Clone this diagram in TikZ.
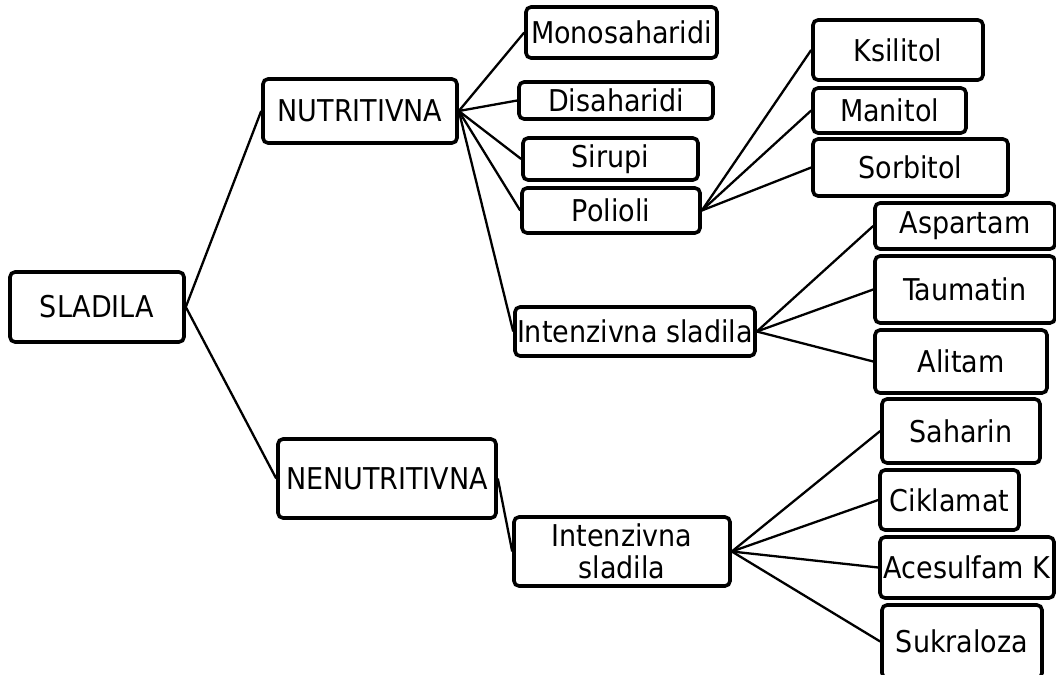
\documentclass[tikz,border=0pt]{standalone}
\usepackage{fontspec}
\setmainfont{DejaVu Sans Condensed}
\begin{document}
\begin{tikzpicture}[x = 1pt, y = -1pt, okvir/.style = {draw, line width = 3.6pt, rounded corners = 5pt, inner sep = 0pt, font = \fontsize{30}{32}\selectfont, align = center}, veza/.style = {line width = 2.3pt}]
				\useasboundingbox (0, 0) rectangle (1056, 674);
				\node[okvir, minimum width = 174, minimum height = 70] (sladila) at (97, 307) {SLADILA};
				\node[okvir, minimum width = 194, minimum height = 64] (nutri) at (360, 111) {NUTRITIVNA};
				\node[okvir, minimum width = 218, minimum height = 79] (nenutri) at (387, 478.5) {NENUTRITIVNA};
				\node[okvir, minimum width = 191, minimum height = 51] (mono) at (621.5, 32.5) {Monosaharidi};
				\node[okvir, minimum width = 194, minimum height = 37] (disa) at (616, 100.5) {Disaharidi};
				\node[okvir, minimum width = 175, minimum height = 42] (sirupi) at (610.5, 159) {Sirupi};
				\node[okvir, minimum width = 178, minimum height = 45] (polioli) at (611, 210.5) {Polioli};
				\node[okvir, minimum width = 240, minimum height = 49] (intnut) at (635, 331.5) {Intenzivna sladila};
				\node[okvir, minimum width = 170, minimum height = 60] (ksilitol) at (898, 50) {Ksilitol};
				\node[okvir, minimum width = 153, minimum height = 45] (manitol) at (889.5, 110.5) {Manitol};
				\node[okvir, minimum width = 195, minimum height = 57] (sorbitol) at (910.5, 167.5) {Sorbitol};
				\node[okvir, minimum width = 180, minimum height = 46] (aspartam) at (965, 226) {Aspartam};
				\node[okvir, minimum width = 180, minimum height = 67] (taumatin) at (965, 289.5) {Taumatin};
				\node[okvir, minimum width = 172, minimum height = 63] (alitam) at (961, 361.5) {Alitam};
				\node[okvir, minimum width = 216, minimum height = 69] (intnen) at (622, 551.5) {Intenzivna\\sladila};
				\node[okvir, minimum width = 158, minimum height = 64] (saharin) at (961, 431) {Saharin};
				\node[okvir, minimum width = 139, minimum height = 60] (ciklamat) at (949.5, 500) {Ciklamat};
				\node[okvir, minimum width = 174, minimum height = 61] (acesulfam) at (967, 567.5) {Acesulfam K};
				\node[okvir, minimum width = 160, minimum height = 73] (sukraloza) at (962, 641.5) {Sukraloza};
				\draw[veza] (sladila.east) -- (nutri.west);
				\draw[veza] (sladila.east) -- (nenutri.west);
				\foreach \dijete in {mono, disa, sirupi, polioli, intnut}
					\draw[veza] (nutri.east) -- (\dijete.west);
				\foreach \dijete in {ksilitol, manitol, sorbitol}
					\draw[veza] (polioli.east) -- (\dijete.west);
				\foreach \dijete in {aspartam, taumatin, alitam}
					\draw[veza] (intnut.east) -- (\dijete.west);
				\draw[veza] (nenutri.east) -- (intnen.west);
				\foreach \dijete in {saharin, ciklamat, acesulfam, sukraloza}
					\draw[veza] (intnen.east) -- (\dijete.west);
			\end{tikzpicture}
\end{document}
